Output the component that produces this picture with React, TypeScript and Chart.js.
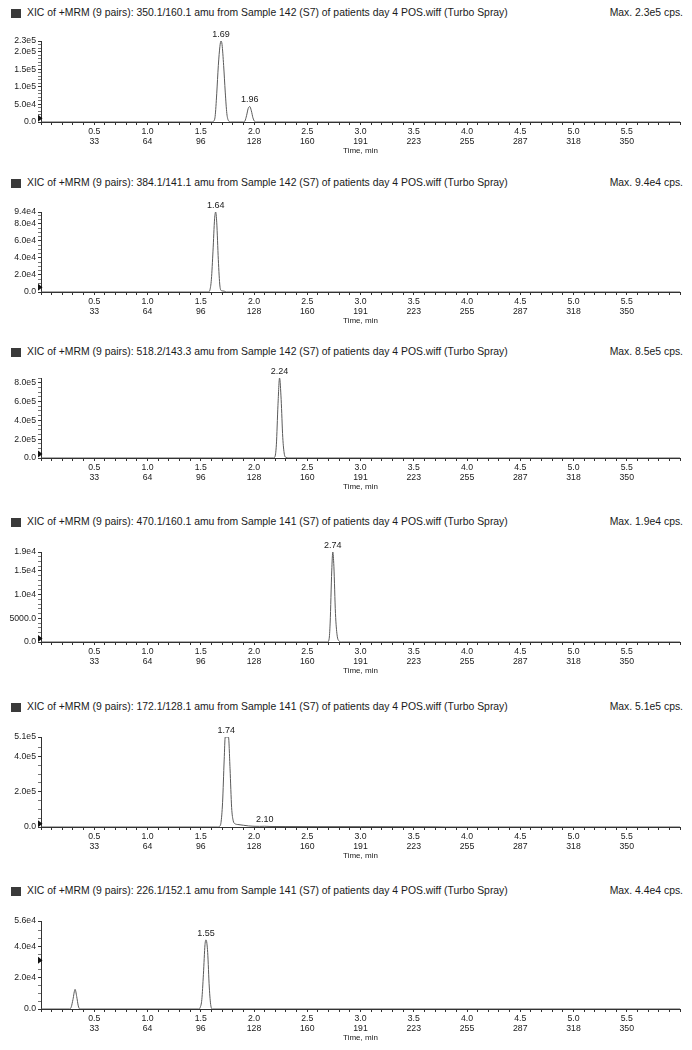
import React, { useEffect, useRef } from 'react';
import { Chart, registerables } from 'chart.js';
Chart.register(...registerables);

// ---------- shared tick labels ----------
const timeTickLabels = ['0.5', '1.0', '1.5', '2.0', '2.5', '3.0', '3.5', '4.0', '4.5', '5.0', '5.5'];
const scanTickLabels = ['33', '64', '96', '128', '160', '191', '223', '255', '287', '318', '350'];
const xAxisTitle = 'Time, min';

// ---------- panel 1 ----------
const p1Title = 'XIC of +MRM (9 pairs): 350.1/160.1 amu from Sample 142 (S7) of patients day 4 POS.wiff (Turbo Spray)';
const p1Max = 'Max. 2.3e5 cps.';
const p1Time = [0, 1.6, 1.62, 1.635, 1.65, 1.665, 1.68, 1.69, 1.7, 1.715, 1.73, 1.745, 1.76, 1.78, 1.9, 1.915, 1.93, 1.945, 1.96, 1.975, 1.99, 2.005, 2.02, 6.0];
const p1Int = [0, 0, 2e3, 1.6e4, 8e4, 1.6e5, 2.15e5, 2.3e5, 2.2e5, 1.6e5, 8.5e4, 2.4e4, 4e3, 0, 0, 3e3, 1.8e4, 3.8e4, 4.4e4, 3.2e4, 1.2e4, 2e3, 0, 0];
const p1YTicks = [0, 5e4, 1e5, 1.5e5, 2e5, 2.3e5];
const p1YLabels = ['0.0', '5.0e4', '1.0e5', '1.5e5', '2.0e5', '2.3e5'];
const p1YMax = 2.3e5;
const p1YMinor = 1e4;
const p1PeakTimes = [1.69, 1.96];
const p1PeakLabels = ['1.69', '1.96'];
const p1Marker = 1.1e4;

// ---------- panel 2 ----------
const p2Title = 'XIC of +MRM (9 pairs): 384.1/141.1 amu from Sample 142 (S7) of patients day 4 POS.wiff (Turbo Spray)';
const p2Max = 'Max. 9.4e4 cps.';
const p2Time = [0, 1.57, 1.585, 1.6, 1.615, 1.63, 1.64, 1.65, 1.665, 1.68, 1.695, 1.72, 1.74, 6.0];
const p2Int = [0, 0, 2e3, 1.5e4, 4.8e4, 8.6e4, 9.4e4, 8.2e4, 3.8e4, 7e3, 1.5e3, 1e3, 0, 0];
const p2YTicks = [0, 2e4, 4e4, 6e4, 8e4, 9.4e4];
const p2YLabels = ['0.0', '2.0e4', '4.0e4', '6.0e4', '8.0e4', '9.4e4'];
const p2YMax = 9.4e4;
const p2YMinor = 5e3;
const p2PeakTimes = [1.64];
const p2PeakLabels = ['1.64'];
const p2Marker = 5.5e3;

// ---------- panel 3 ----------
const p3Title = 'XIC of +MRM (9 pairs): 518.2/143.3 amu from Sample 142 (S7) of patients day 4 POS.wiff (Turbo Spray)';
const p3Max = 'Max. 8.5e5 cps.';
const p3Time = [0, 2.18, 2.195, 2.21, 2.225, 2.24, 2.255, 2.27, 2.285, 2.3, 2.32, 6.0];
const p3Int = [0, 0, 1e4, 1.4e5, 5.6e5, 8.5e5, 6.2e5, 2.2e5, 4e4, 6e3, 0, 0];
const p3YTicks = [0, 2e5, 4e5, 6e5, 8e5];
const p3YLabels = ['0.0', '2.0e5', '4.0e5', '6.0e5', '8.0e5'];
const p3YMax = 8.5e5;
const p3YMinor = 5e4;
const p3PeakTimes = [2.24];
const p3PeakLabels = ['2.24'];
const p3Marker = 4.2e4;

// ---------- panel 4 ----------
const p4Title = 'XIC of +MRM (9 pairs): 470.1/160.1 amu from Sample 141 (S7) of patients day 4 POS.wiff (Turbo Spray)';
const p4Max = 'Max. 1.9e4 cps.';
const p4Time = [0, 2.69, 2.705, 2.715, 2.73, 2.74, 2.75, 2.765, 2.78, 2.8, 2.82, 6.0];
const p4Int = [0, 0, 6e2, 4e3, 1.5e4, 1.9e4, 1.6e4, 6e3, 1.5e3, 2e2, 0, 0];
const p4YTicks = [0, 5000, 1e4, 1.5e4, 1.9e4];
const p4YLabels = ['0.0', '5000.0', '1.0e4', '1.5e4', '1.9e4'];
const p4YMax = 1.9e4;
const p4YMinor = 1000;
const p4PeakTimes = [2.74];
const p4PeakLabels = ['2.74'];
const p4Marker = 760;

// ---------- panel 5 ----------
const p5Title = 'XIC of +MRM (9 pairs): 172.1/128.1 amu from Sample 141 (S7) of patients day 4 POS.wiff (Turbo Spray)';
const p5Max = 'Max. 5.1e5 cps.';
const p5Time = [0, 1.66, 1.675, 1.69, 1.705, 1.72, 1.73, 1.745, 1.76, 1.775, 1.79, 1.805, 1.82, 1.85, 1.9, 1.95, 2.0, 2.05, 2.1, 2.15, 2.3, 2.6, 3.0, 3.4, 3.7, 3.8, 6.0];
const p5Int = [0, 0, 3e3, 2.5e4, 1.4e5, 3.8e5, 5.1e5, 5.1e5, 5.1e5, 3.3e5, 1.1e5, 3.5e4, 1.9e4, 1.4e4, 1.0e4, 6e3, 4e3, 3.5e3, 4e3, 3e3, 2.5e3, 2e3, 2e3, 1.5e3, 1e3, 0, 0];
const p5YTicks = [0, 2e5, 4e5, 5.1e5];
const p5YLabels = ['0.0', '2.0e5', '4.0e5', '5.1e5'];
const p5YMax = 5.1e5;
const p5YMinor = 5e4;
const p5PeakTimes = [1.74, 2.1];
const p5PeakLabels = ['1.74', '2.10'];
const p5Marker = 1.9e4;

// ---------- panel 6 ----------
const p6Title = 'XIC of +MRM (9 pairs): 226.1/152.1 amu from Sample 141 (S7) of patients day 4 POS.wiff (Turbo Spray)';
const p6Max = 'Max. 4.4e4 cps.';
const p6Time = [0, 0.27, 0.285, 0.3, 0.32, 0.335, 0.35, 0.365, 1.48, 1.495, 1.51, 1.525, 1.54, 1.55, 1.565, 1.58, 1.595, 1.61, 6.0];
const p6Int = [0, 0, 1.5e3, 6e3, 1.25e4, 8e3, 2e3, 0, 0, 1e3, 6e3, 2.2e4, 4.1e4, 4.4e4, 3.6e4, 1.4e4, 2e3, 0, 0];
const p6YTicks = [0, 2e4, 4e4, 5.6e4];
const p6YLabels = ['0.0', '2.0e4', '4.0e4', '5.6e4'];
const p6YMax = 5.6e4;
const p6YMinor = 5e3;
const p6PeakTimes = [1.55];
const p6PeakLabels = ['1.55'];
const p6Marker = 3.1e4;

const X_MIN = 0;
const X_MAX = 6.0;
const X_MINOR = 0.1;

type PanelDef = {
  title: string; max: string; time: number[]; int: number[]; yMax: number;
  yTicks: number[]; yLabels: string[]; yMinor: number;
  peakTimes: number[]; peakLabels: string[]; marker: number;
};

const panels: PanelDef[] = [
  { title: p1Title, max: p1Max, time: p1Time, int: p1Int, yMax: p1YMax, yTicks: p1YTicks, yLabels: p1YLabels, yMinor: p1YMinor, peakTimes: p1PeakTimes, peakLabels: p1PeakLabels, marker: p1Marker },
  { title: p2Title, max: p2Max, time: p2Time, int: p2Int, yMax: p2YMax, yTicks: p2YTicks, yLabels: p2YLabels, yMinor: p2YMinor, peakTimes: p2PeakTimes, peakLabels: p2PeakLabels, marker: p2Marker },
  { title: p3Title, max: p3Max, time: p3Time, int: p3Int, yMax: p3YMax, yTicks: p3YTicks, yLabels: p3YLabels, yMinor: p3YMinor, peakTimes: p3PeakTimes, peakLabels: p3PeakLabels, marker: p3Marker },
  { title: p4Title, max: p4Max, time: p4Time, int: p4Int, yMax: p4YMax, yTicks: p4YTicks, yLabels: p4YLabels, yMinor: p4YMinor, peakTimes: p4PeakTimes, peakLabels: p4PeakLabels, marker: p4Marker },
  { title: p5Title, max: p5Max, time: p5Time, int: p5Int, yMax: p5YMax, yTicks: p5YTicks, yLabels: p5YLabels, yMinor: p5YMinor, peakTimes: p5PeakTimes, peakLabels: p5PeakLabels, marker: p5Marker },
  { title: p6Title, max: p6Max, time: p6Time, int: p6Int, yMax: p6YMax, yTicks: p6YTicks, yLabels: p6YLabels, yMinor: p6YMinor, peakTimes: p6PeakTimes, peakLabels: p6PeakLabels, marker: p6Marker },
];

// ---------- layout (page pixels) ----------
const PANEL_POS = [
  { header: 13, top: 41, bottom: 122 },
  { header: 183, top: 212, bottom: 292 },
  { header: 352, top: 378, bottom: 458 },
  { header: 522, top: 552, bottom: 642 },
  { header: 707, top: 737, bottom: 827 },
  { header: 891, top: 921, bottom: 1009 },
];
const PAD_TOP = 25;
const XAXIS_H = 33;
const YAXIS_W = 41;
const PAGE_W = 692;
const FONT = '"Liberation Sans", Arial, Helvetica, sans-serif';
const INK = '#1a1a1a';
const AXIS = '#333333';
const TRACE = '#5a5a5a';

function makeOverlay(def: PanelDef) {
  return {
    id: 'xicOverlay',
    afterDatasetsDraw(chart: any) {
      const { ctx, chartArea } = chart;
      const xs = chart.scales.x;
      const ys = chart.scales.y;
      ctx.save();
      ctx.font = `9px ${FONT}`;
      ctx.fillStyle = INK;
      ctx.textAlign = 'center';
      ctx.textBaseline = 'bottom';
      def.peakTimes.forEach((t, i) => {
        let v = 0;
        def.time.forEach((tt, j) => {
          if (Math.abs(tt - t) <= 0.012) v = Math.max(v, def.int[j]);
        });
        ctx.fillText(def.peakLabels[i], xs.getPixelForValue(t), ys.getPixelForValue(v) - 2);
      });
      const my = ys.getPixelForValue(def.marker);
      const lx = chartArea.left;
      ctx.beginPath();
      ctx.moveTo(lx - 3, my - 3.5);
      ctx.lineTo(lx + 1.5, my);
      ctx.lineTo(lx - 3, my + 3.5);
      ctx.closePath();
      ctx.fillStyle = '#111';
      ctx.fill();
      ctx.restore();
    },
  };
}

function Panel({ def, pos }: { def: PanelDef; pos: { header: number; top: number; bottom: number } }) {
  const ref = useRef<HTMLCanvasElement>(null);
  const cTop = pos.top - PAD_TOP;
  const cH = pos.bottom - pos.top + PAD_TOP + XAXIS_H;

  useEffect(() => {
    if (!ref.current) return;
    const points = def.time.map((t, i) => ({ x: t, y: def.int[i] }));
    const chart = new Chart(ref.current, {
      type: 'line',
      data: {
        datasets: [
          {
            data: points,
            borderColor: TRACE,
            borderWidth: 1,
            pointRadius: 0,
            fill: false,
            cubicInterpolationMode: 'monotone',
          } as any,
        ],
      },
      options: {
        animation: false,
        responsive: false,
        maintainAspectRatio: false,
        events: [],
        layout: { padding: { top: PAD_TOP, right: 12, left: 0, bottom: 0 } },
        plugins: {
          legend: { display: false },
          tooltip: { enabled: false },
          title: { display: false },
        },
        scales: {
          x: {
            type: 'linear',
            min: X_MIN,
            max: X_MAX,
            afterBuildTicks: (s: any) => {
              const n = Math.round((X_MAX - X_MIN) / X_MINOR);
              const arr = [];
              for (let i = 0; i <= n; i++) arr.push({ value: Math.round((X_MIN + i * X_MINOR) * 1000) / 1000 });
              s.ticks = arr;
            },
            afterFit: (s: any) => { s.height = XAXIS_H; },
            ticks: {
              autoSkip: false,
              maxRotation: 0,
              minRotation: 0,
              padding: 2,
              color: INK,
              font: { family: FONT, size: 8.7, lineHeight: '10px' } as any,
              callback: (value: any) => {
                const v = Number(value);
                const k = Math.round(v * 2);
                if (Math.abs(v * 2 - k) < 1e-6 && k >= 1 && k <= timeTickLabels.length) {
                  return [timeTickLabels[k - 1], scanTickLabels[k - 1]];
                }
                return '';
              },
            },
            grid: { drawOnChartArea: false, drawTicks: true, tickLength: 3, color: AXIS, tickColor: AXIS, tickWidth: 1 } as any,
            border: { display: true, color: AXIS, width: 1 },
            title: { display: true, text: xAxisTitle, color: INK, font: { family: FONT, size: 8, lineHeight: '9px' } as any, padding: 0 },
          } as any,
          y: {
            type: 'linear',
            min: 0,
            max: def.yMax,
            afterBuildTicks: (s: any) => {
              const vals: number[] = [...def.yTicks];
              for (let v = 0; v <= def.yMax + 1e-9; v += def.yMinor) {
                if (!vals.some((u) => Math.abs(u - v) < def.yMinor * 0.3)) vals.push(v);
              }
              vals.sort((a, b) => a - b);
              s.ticks = vals.map((v) => ({ value: v }));
            },
            afterFit: (s: any) => { s.width = YAXIS_W; },
            ticks: {
              autoSkip: false,
              padding: 2,
              color: INK,
              font: { family: FONT, size: 8.7 },
              callback: (value: any) => {
                const v = Number(value);
                const idx = def.yTicks.findIndex((u) => Math.abs(u - v) < def.yMinor * 0.01);
                return idx >= 0 ? def.yLabels[idx] : '';
              },
            },
            grid: {
              drawOnChartArea: false,
              drawTicks: true,
              tickLength: 3,
              color: AXIS,
              tickColor: (c: any) => (c.tick && c.tick.label === '' ? '#777' : AXIS),
              tickWidth: 1,
            } as any,
            border: { display: true, color: AXIS, width: 1 },
          } as any,
        },
      },
      plugins: [makeOverlay(def)],
    } as any);
    return () => chart.destroy();
  }, []);

  return (
    <>
      <div
        style={{
          position: 'absolute', left: 0, top: pos.header - 7, width: PAGE_W, height: 14,
          fontFamily: FONT, fontSize: 10.4, color: INK, whiteSpace: 'nowrap',
        }}
      >
        <span style={{ position: 'absolute', left: 11, top: 3, width: 10, height: 9, background: '#3a3a3a' }} />
        <span style={{ position: 'absolute', left: 27, top: 0, lineHeight: '14px' }}>{def.title}</span>
        <span style={{ position: 'absolute', right: 9, top: 0, lineHeight: '14px' }}>{def.max}</span>
      </div>
      <canvas
        ref={ref}
        width={PAGE_W}
        height={cH}
        style={{ position: 'absolute', left: 0, top: cTop, width: PAGE_W, height: cH, display: 'block' }}
      />
    </>
  );
}

export default function App() {
  return (
    <div style={{ position: 'absolute', left: 0, top: 0, width: PAGE_W, height: 1050, background: '#fff', overflow: 'hidden' }}>
      {panels.map((def, i) => (
        <Panel key={i} def={def} pos={PANEL_POS[i]} />
      ))}
    </div>
  );
}
